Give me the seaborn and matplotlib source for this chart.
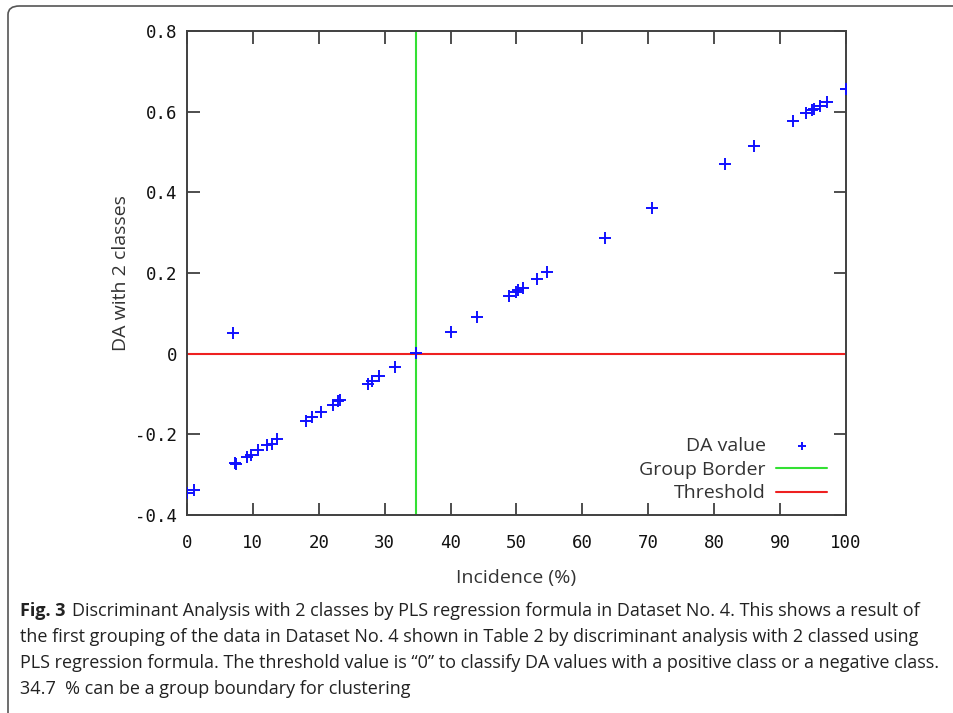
import matplotlib
matplotlib.use("Agg")
import matplotlib.pyplot as plt
from matplotlib import font_manager
from matplotlib.patches import FancyBboxPatch
from matplotlib.ticker import FixedLocator, FuncFormatter
import seaborn as sns
import pandas as pd

# ---- data ----
incidence = [0.0, 1.0, 7.0, 7.3, 7.5, 9.1, 9.7, 10.8, 12.2, 12.9, 13.6, 18.0, 18.9,
             20.3, 22.1, 22.9, 23.2, 27.5, 28.0, 29.2, 31.5, 34.7, 40.1, 44.0, 48.9,
             49.9, 50.2, 51.0, 53.1, 54.7, 63.5, 70.5, 81.7, 86.1, 92.0, 94.0, 94.8,
             95.1, 96.0, 97.1, 100.0]
da_value = [-0.346, -0.339, 0.051, -0.270, -0.273, -0.256, -0.251, -0.239, -0.227,
            -0.223, -0.211, -0.167, -0.157, -0.145, -0.128, -0.118, -0.115, -0.074,
            -0.068, -0.056, -0.032, 0.002, 0.053, 0.091, 0.144, 0.154, 0.158, 0.164,
            0.186, 0.202, 0.287, 0.361, 0.471, 0.516, 0.576, 0.596, 0.603, 0.607,
            0.615, 0.625, 0.655]
group_border = 34.7
threshold = 0.0
x_ticks = [0, 10, 20, 30, 40, 50, 60, 70, 80, 90, 100]
y_ticks = [-0.4, -0.2, 0.0, 0.2, 0.4, 0.6, 0.8]
legend_labels = ["DA value", "Group Border", "Threshold"]
x_label = "Incidence (%)"
y_label = "DA with 2 classes"
caption_bold = "Fig. 3"
caption_lines = [
    "Discriminant Analysis with 2 classes by PLS regression formula in Dataset No. 4. This shows a result of",
    "the first grouping of the data in Dataset No. 4 shown in Table 2 by discriminant analysis with 2 classed using",
    "PLS regression formula. The threshold value is \u201c0\u201d to classify DA values with a positive class or a negative class.",
    "34.7  % can be a group boundary for clustering",
]

sns.set_theme(style="white")
plt.rcParams["font.family"] = ["Open Sans", "DejaVu Sans"]

avail = {f.name for f in font_manager.fontManager.ttflist}
cap_font = "Liberation Sans Narrow" if "Liberation Sans Narrow" in avail else "Open Sans"

W, H, DPI = 954, 713, 100
fig = plt.figure(figsize=(W / DPI, H / DPI), dpi=DPI)
fig.patch.set_facecolor("white")

L, R, T, B = 187, 846, 31, 515
ax = fig.add_axes([L / W, 1 - B / H, (R - L) / W, (B - T) / H])

df = pd.DataFrame({"Incidence": incidence, "DA": da_value})
sns.scatterplot(data=df, x="Incidence", y="DA", ax=ax, marker="+", s=70,
                color="#1010ff", linewidth=1.4, label=legend_labels[0], zorder=3)
ax.axvline(group_border, color="#33e033", lw=1.5, label=legend_labels[1], zorder=2)
ax.axhline(threshold, color="#ee2020", lw=1.5, label=legend_labels[2], zorder=2)

ax.set_xlim(0, 100)
ax.set_ylim(-0.4, 0.8)
ax.xaxis.set_major_locator(FixedLocator(x_ticks))
ax.yaxis.set_major_locator(FixedLocator(y_ticks))
ax.yaxis.set_major_formatter(FuncFormatter(lambda v, p: "0" if abs(v) < 1e-9 else f"{v:.1f}"))
ax.xaxis.set_major_formatter(FuncFormatter(lambda v, p: f"{v:.0f}"))

for s in ax.spines.values():
    s.set_color("#404040")
    s.set_linewidth(1.4)
ax.tick_params(which="both", direction="in", length=9, width=1.3, color="#404040",
               top=True, right=True, bottom=True, left=True)
ax.tick_params(axis="x", pad=14)
ax.tick_params(axis="y", pad=7)
for lab in ax.get_xticklabels() + ax.get_yticklabels():
    lab.set_fontfamily("DejaVu Sans Mono")
    lab.set_fontsize(12.5)
    lab.set_color("#111111")

ax.set_xlabel(x_label, fontsize=14, color="#333333", labelpad=12)
ax.set_ylabel(y_label, fontsize=14, color="#333333", labelpad=4)
ax.grid(False)

leg = ax.legend(loc="lower right", bbox_to_anchor=(0.986, 0.006), frameon=False,
                markerfirst=False, fontsize=14, handlelength=2.6, handletextpad=0.55,
                labelspacing=0.3, borderpad=0.0, markerscale=0.75)
for t in leg.get_texts():
    t.set_color("#333333")

# figure border (rounded, clipped at right/bottom)
border = FancyBboxPatch((8 / W, -0.1), 1.2, (H - 6) / H + 0.1,
                        boxstyle="round,pad=0,rounding_size=0.012",
                        transform=fig.transFigure, fill=False, ec="#555555", lw=1.2,
                        clip_on=False)
fig.patches.append(border)

# caption
cx = 20 / W
line_y = [611, 637, 663, 689]
fs_cap = 13.0
renderer = fig.canvas.get_renderer()
tb = fig.text(cx, 1 - line_y[0] / H, caption_bold, fontsize=fs_cap, fontweight="bold",
              family=[cap_font, "DejaVu Sans"], va="center", ha="left", color="#222222")
bb = tb.get_window_extent(renderer=renderer)
fig.text((bb.x1 + 7) / W, 1 - line_y[0] / H, caption_lines[0], fontsize=fs_cap,
         family=[cap_font, "DejaVu Sans"], va="center", ha="left", color="#222222")
for yy, line in zip(line_y[1:], caption_lines[1:]):
    fig.text(cx, 1 - yy / H, line, fontsize=fs_cap, family=[cap_font, "DejaVu Sans"],
             va="center", ha="left", color="#222222")

fig.savefig("out.png", dpi=DPI)
